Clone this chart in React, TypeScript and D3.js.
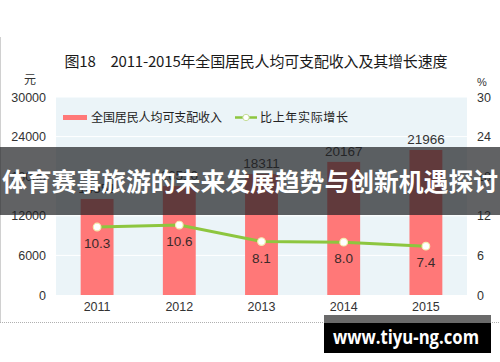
import React from "react";
import * as d3 from "d3";

const years = ["2011", "2012", "2013", "2014", "2015"];
const income = [14551, 16510, 18311, 20167, 21966];
const growth = [10.3, 10.6, 8.1, 8.0, 7.4];
const leftTicks = [0, 6000, 12000, 18000, 24000, 30000];
const rightTicks = [0, 6, 12, 18, 24, 30];
const title = "图18　2011-2015年全国居民人均可支配收入及其增长速度";
const legendIncome = "全国居民人均可支配收入";
const legendGrowth = "比上年实际增长";
const banner = "体育赛事旅游的未来发展趋势与创新机遇探讨";
const watermark = "www.tiyu-ng.com";

const W = 500, H = 362;
const plot = { left: 56, right: 467, top: 97, bottom: 295 };
const FONT = "'Liberation Sans', 'Noto Sans CJK SC', sans-serif";
const CJK = "'Noto Sans CJK SC', 'Liberation Sans', sans-serif";

export default function App() {
  const x = d3.scaleBand<string>().domain(years).range([plot.left, plot.right]).paddingInner(0.6).paddingOuter(0.3);
  const yL = d3.scaleLinear().domain([0, 30000]).range([plot.bottom, plot.top]);
  const yR = d3.scaleLinear().domain([0, 30]).range([plot.bottom, plot.top]);
  const cx = (y: string) => (x(y) as number) + x.bandwidth() / 2;
  const line = d3.line<number>().x((_, i) => cx(years[i])).y((d) => yR(d));

  return (
    <svg width={W} height={H} style={{ position: "absolute", left: 0, top: 0, background: "#fff" }}>
      <line x1={0.5} x2={0.5} y1={37} y2={322} stroke="#d0d0d0" />
      <line x1={0} x2={W} y1={322.5} y2={322.5} stroke="#b0b0b0" strokeDasharray="1,1" />
      <text x={256} y={67} textAnchor="middle" fontFamily={CJK} fontSize={15} fill="#1a1a1a" fontWeight={400} textLength={383} lengthAdjust="spacing">{title}</text>
      <text x={30} y={84} textAnchor="middle" fontFamily={CJK} fontSize={12} fill="#333">元</text>
      <text x={477} y={86} fontFamily={FONT} fontSize={11} fill="#333">%</text>
      <rect x={plot.left} y={plot.top} width={plot.right - plot.left} height={plot.bottom - plot.top} fill="#EBF4F8" />
      {leftTicks.slice(1).map((t) => (
        <line key={t} x1={plot.left} x2={plot.right} y1={yL(t)} y2={yL(t)} stroke="#fff" strokeWidth={1} />
      ))}
      {leftTicks.map((t) => (
        <text key={t} x={46} y={yL(t) + 4.5} textAnchor="end" fontFamily={FONT} fontSize={12.5} fill="#333">{t}</text>
      ))}
      {rightTicks.map((t) => (
        <text key={t} x={477} y={yR(t) + 4.5} fontFamily={FONT} fontSize={12.5} fill="#333">{t}</text>
      ))}
      {income.map((v, i) => (
        <rect key={i} x={x(years[i])} y={yL(v)} width={x.bandwidth()} height={plot.bottom - yL(v)} fill="#FF7878" />
      ))}
      {income.map((v, i) => (
        <text key={i} x={cx(years[i])} y={yL(v) - 6} textAnchor="middle" fontFamily={FONT} fontSize={13.5} fill="#333">{v}</text>
      ))}
      {years.map((y) => (
        <text key={y} x={cx(y)} y={311} textAnchor="middle" fontFamily={FONT} fontSize={12.5} fill="#333">{y}</text>
      ))}
      <path d={line(growth) || ""} fill="none" stroke="#8DC63F" strokeWidth={3} />
      {growth.map((v, i) => (
        <circle key={i} cx={cx(years[i])} cy={yR(v)} r={3.8} fill="#fff" stroke="#F2EDB0" strokeWidth={1.2} />
      ))}
      {growth.map((v, i) => (
        <text key={i} x={cx(years[i])} y={yR(v) + 21} textAnchor="middle" fontFamily={FONT} fontSize={13.5} fill="#3a2a2a">{v.toFixed(1)}</text>
      ))}
      <rect x={63} y={115} width={24} height={5} fill="#FF7878" />
      <text x={91} y={122} fontFamily={CJK} fontSize={12} fill="#222" textLength={131} lengthAdjust="spacing">{legendIncome}</text>
      <line x1={235} x2={257} y1={117.5} y2={117.5} stroke="#8DC63F" strokeWidth={2.5} />
      <circle cx={246} cy={117.5} r={3.2} fill="#fff" stroke="#C7DE9A" strokeWidth={1} />
      <text x={260} y={122} fontFamily={CJK} fontSize={12} fill="#222" textLength={88} lengthAdjust="spacing">{legendGrowth}</text>
      <rect x={0} y={147} width={W} height={68} fill="rgba(30,32,34,0.7)" />
      <text x={250} y={191} textAnchor="middle" fontFamily={CJK} fontSize={25} fontWeight={700} fill="#fff" textLength={496} lengthAdjust="spacingAndGlyphs">{banner}</text>
      <rect x={324} y={315} width={167} height={8} fill="#6a6a6a" />
      <rect x={324} y={323} width={167} height={30} fill="#000" />
      <text x={406} y={344} textAnchor="middle" fontFamily="'Open Sans', 'DejaVu Sans', sans-serif" fontSize={19} fontWeight={700} fill="#fff" textLength={146} lengthAdjust="spacingAndGlyphs">{watermark}</text>
    </svg>
  );
}
